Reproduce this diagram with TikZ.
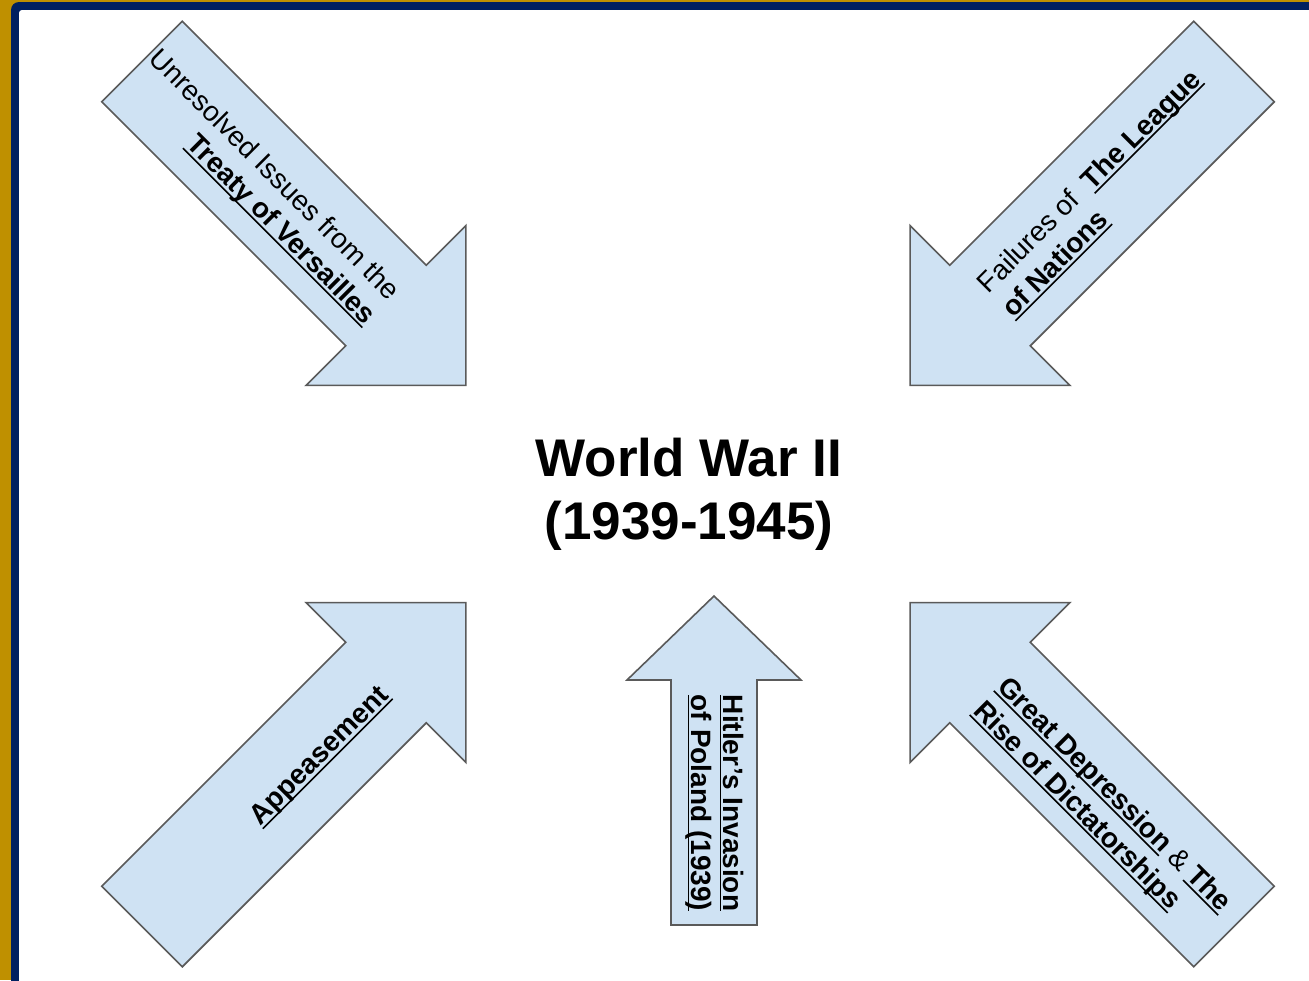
\documentclass[tikz,border=0pt]{standalone}
\usepackage{fontspec}
\setmainfont{Liberation Sans}
\definecolor{navyband}{HTML}{002060}
\definecolor{goldband}{HTML}{BF9000}
\definecolor{arrowfill}{HTML}{CFE2F3}
\definecolor{arrowline}{HTML}{5A5A5A}
\newcommand{\udl}[1]{\leavevmode\setbox0=\hbox{#1}\dp0=0pt\vtop{\box0\kern2.5pt\hrule height 1.6pt}}

\begin{document}
\begin{tikzpicture}[x=1pt, y=-1pt,
		cause/.style={draw=arrowline, fill=arrowfill, line width=1.6pt, line join=miter},
		causetext/.style={inner sep=0pt, font=\fontsize{28}{34}\selectfont},
		wartitle/.style={inner sep=0pt, align=center, font=\bfseries\fontsize{53}{63}\selectfont}]
		\clip (0, 0) rectangle (1309, 980);
		% frame
		\fill [goldband] (0, 0) rectangle (1309, 980);
		\fill [navyband, rounded corners=8pt] (11, 2) rectangle (1340, 1010);
		\fill [white, rounded corners=3pt] (19, 10) rectangle (1330, 1000);
		% the five causes
		\foreach \x/\y/\a in {142/61.5/-45, 1234/61.5/-135, 142/926.5/45, 1234/926.5/135}
			\draw [cause, shift={(\x, \y)}, rotate=\a] (0, -57) -- (345, -57) -- (345, -113) -- (458, 0) -- (345, 113) -- (345, 57) -- (0, 57) -- cycle;
		\draw [cause, shift={(714, 925)}, rotate=90] (0, -43) -- (245, -43) -- (245, -87) -- (329, 0) -- (245, 87) -- (245, 43) -- (0, 43) -- cycle;
		\draw (689, 494) node [wartitle] (war) {World War II\\(1939-1945)};
		\draw (262, 187) node [causetext, rotate=-45, align=right] (versailles) {Unresolved Issues from the\\\textbf{\udl{Treaty of Versailles}}};
		\draw (1102, 194) node [causetext, rotate=45, align=left] (league) {Failures of \ \textbf{\udl{The League}}\\\textbf{\udl{of Nations}}};
		\draw (320, 756) node [causetext, rotate=45] (appeasement) {\textbf{\udl{Appeasement}}};
		\draw (716, 803) node [causetext, rotate=-90, align=left, font=\fontsize{28}{32}\selectfont] (poland) {\textbf{\udl{Hitler's Invasion}}\\\textbf{\udl{of Poland (1939)}}};
		\draw (1102, 807) node [causetext, rotate=-45, align=left] (depression) {\textbf{\udl{Great Depression}} \& \textbf{\udl{The}}\\\textbf{\udl{Rise of Dictatorships}}};
	\end{tikzpicture}
\end{document}
